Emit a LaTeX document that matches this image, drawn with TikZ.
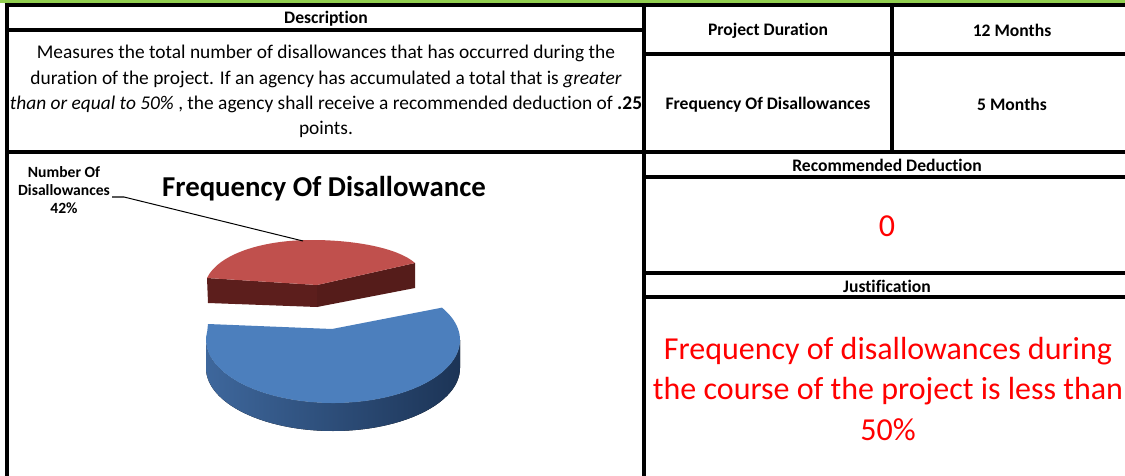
\documentclass[tikz,border=0pt]{standalone}
\usepackage{fontspec}
\setmainfont{Carlito}[Ligatures=NoCommon]
\usetikzlibrary{calc}
\definecolor{xlgreen}{RGB}{146,208,80}
\definecolor{pieblue}{RGB}{76,127,189}
\definecolor{pieblueL}{RGB}{62,103,156}
\definecolor{pieblueM}{RGB}{50,88,136}
\definecolor{pieblueD}{RGB}{28,52,86}
\definecolor{piered}{RGB}{192,80,77}
\definecolor{pieredD}{RGB}{92,30,28}
\definecolor{xred}{RGB}{255,0,0}
\begin{document}
\begin{tikzpicture}[x=1pt,y=-1pt,
  gridline/.style={line width=4pt,draw=black},
  hdr/.style={inner sep=0pt,font=\bfseries\fontsize{17.6}{20}\selectfont},
  bodytext/.style={inner sep=0pt,align=center,font=\fontsize{19.4}{25.3}\selectfont},
  bigred/.style={inner sep=0pt,align=center,text=xred,font=\fontsize{32}{40.5}\selectfont},
  charttitle/.style={inner sep=0pt,font=\bfseries\fontsize{28.8}{32}\selectfont},
  chartlabel/.style={inner sep=0pt,align=center,font=\bfseries\fontsize{15.6}{18}\selectfont},
  leader/.style={draw=black,line width=1pt}]
\fill[white] (0,0) rectangle (1125,476);
\useasboundingbox (0,0) rectangle (1125,476);
% green band
\fill[xlgreen] (0,0) rectangle (1125,3);
% grid
\draw[gridline] (6.5,3) -- (6.5,476);
\draw[gridline] (4.5,5) -- (1125,5);
\draw[gridline] (644,5) -- (644,476);
\draw[gridline] (6.5,30) -- (644,30);
\draw[gridline] (6.5,152) -- (1125,152);
\draw[gridline] (644,54) -- (1125,54);
\draw[gridline] (892,5) -- (892,152);
\draw[gridline] (644,177) -- (1125,177);
\draw[gridline] (644,273) -- (1125,273);
\draw[gridline] (644,297) -- (1125,297);
% texts left
\node[hdr] (desc) at (326,18.5) {Description};
\node[bodytext] (body) at (326,91.5) {Measures the total number of disallowances that has occurred during the\\
duration of the project. If an agency has accumulated a total that is \textit{greater}\\
\textit{than or equal to 50\%} , the agency shall receive a recommended deduction of \textbf{.25}\\
points.};
% texts right
\node[hdr] (pd) at (768,30.5) {Project Duration};
\node[hdr] (pdv) at (1012,30) {12 Months};
\node[hdr] (fd) at (768,104.5) {Frequency Of Disallowances};
\node[hdr] (fdv) at (1012,104) {5 Months};
\node[hdr] (rd) at (887,165.5) {Recommended Deduction};
\node[bigred] (rdv) at (887,226) {0};
\node[hdr] (jt) at (887,286) {Justification};
\node[bigred] (jtv) at (888,389) {Frequency of disallowances during\\ the course of the project is less than\\ 50\%};
% chart
\node[charttitle] (ctitle) at (324,188.5) {Frequency Of Disallowance};
\node[chartlabel] (clabel) at (64,190.5) {Number Of\\ Disallowances\\ 42\%};
% blue slice wall
\fill[left color=pieblueL,middle color=pieblueM,right color=pieblueD]
  ([shift={(333,340)}]0:127 and 63) arc[start angle=0,end angle=180,x radius=127,y radius=63]
  -- ++(0,28) arc[start angle=180,end angle=0,x radius=127,y radius=63] -- cycle;
% blue top face
\coordinate (bapex) at (332,329);
\fill[pieblue] (bapex) -- ([shift={(333,340)}]-30.9:127 and 63)
  arc[start angle=-30.9,end angle=188,x radius=127,y radius=63] -- (208,324) -- cycle;
% red slice sides
\coordinate (rapex) at (317,285);
\fill[pieredD] (207,278) -- (rapex) -- (317,307) -- (208,303) -- cycle;
\fill[pieredD!92!black] (rapex) -- (415,263) -- (415,288) -- (317,307) -- cycle;
% red top face
\fill[piered] (rapex) -- (207,278) .. controls (218,255) and (260,240) .. (312,240)
  .. controls (355,240) and (398,248) .. (415,263) -- cycle;
% leader
\coordinate (ldstart) at (112,197);
\coordinate (ldbend) at (124,197);
\coordinate (ldend) at (303,241);
\draw[leader] (ldstart) -- (ldbend) -- (ldend);
\end{tikzpicture}
\end{document}
